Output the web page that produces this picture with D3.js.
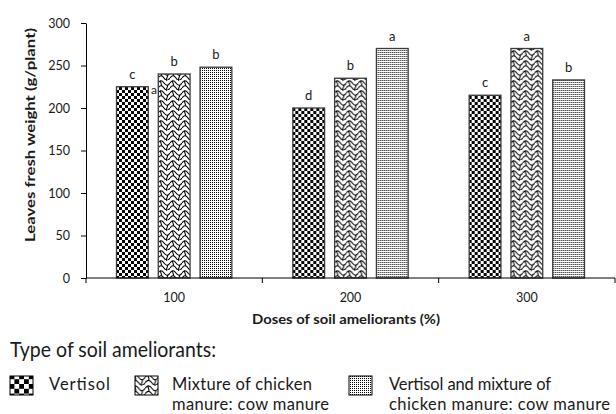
<!DOCTYPE html>
<html>
<head>
<meta charset="utf-8">
<script src="https://cdn.jsdelivr.net/npm/d3@7/dist/d3.min.js"></script>
<style>
  html, body { margin: 0; padding: 0; background: #fff; }
  svg { display: block; }
  text { font-family: Lato, "Open Sans", sans-serif; fill: #1a1a1a; }
</style>
</head>
<body>
<svg id="chart" width="616" height="414"></svg>
<script>
// Doses of soil ameliorants (%)
const doses = ["100", "200", "300"];
// Soil ameliorant types
const seriesNames = ["Vertisol", "Mixture", "VertisolMixture"];
// Leaves fresh weight (g/plant) per dose, one array per ameliorant type
const vertisol = [225, 200, 215];
const mixture = [240, 235, 270];
const vertisolMixture = [248, 270, 233];
// Significance letters per dose
const lettersVertisol = ["c", "d", "c"];
const lettersMixture = ["b", "b", "a"];
const lettersVertisolMixture = ["b", "a", "b"];
const yTicks = [0, 50, 100, 150, 200, 250, 300];

const svg = d3.select("#chart");
const defs = svg.append("defs");

// Fill patterns
function checker(id, s) {
  const p = defs.append("pattern").attr("id", id).attr("patternUnits", "userSpaceOnUse")
    .attr("width", 2 * s).attr("height", 2 * s);
  p.append("rect").attr("width", 2 * s).attr("height", 2 * s).attr("fill", "#fff");
  p.append("rect").attr("width", s).attr("height", s).attr("fill", "#000");
  p.append("rect").attr("x", s).attr("y", s).attr("width", s).attr("height", s).attr("fill", "#000");
}
function weave(id, k) {
  const w = 12 * k, h = 10 * k;
  const p = defs.append("pattern").attr("id", id).attr("patternUnits", "userSpaceOnUse")
    .attr("width", w).attr("height", h);
  p.append("rect").attr("width", w).attr("height", h).attr("fill", "#fff");
  const g = p.append("g").attr("transform", `scale(${k})`).attr("fill", "none")
    .attr("stroke", "#000").attr("stroke-width", 1 / k * 1.1);
  g.append("path").attr("d", "M0,3 C2,0 4,0 6,3 C8,6 10,6 12,3");
  g.append("path").attr("d", "M0,8 C2,5 4,5 6,8 C8,11 10,11 12,8");
  g.append("path").attr("d", "M3,0.8 C1,2 5,4 3,5.8");
  g.append("path").attr("d", "M9,5.2 C11,6.5 7,8.5 9,10.8");
  g.append("path").attr("d", "M9,-4.8 C11,-3.5 7,-1.5 9,0.8");
}
function dots(id) {
  const p = defs.append("pattern").attr("id", id).attr("patternUnits", "userSpaceOnUse")
    .attr("width", 2).attr("height", 2);
  p.append("rect").attr("width", 2).attr("height", 2).attr("fill", "#fff");
  p.append("rect").attr("width", 1).attr("height", 1).attr("fill", "#000");
}
checker("chk", 3); checker("chkL", 4.8);
weave("wv", 1); weave("wvL", 1.1);
dots("dt"); dots("dtL");

const fills = { Vertisol: "url(#chk)", Mixture: "url(#wv)", VertisolMixture: "url(#dt)" };
const legendFills = ["url(#chkL)", "url(#wvL)", "url(#dtL)"];

const rows = doses.map((d, i) => ({
  dose: d,
  values: [
    { key: "Vertisol", v: vertisol[i], letter: lettersVertisol[i] },
    { key: "Mixture", v: mixture[i], letter: lettersMixture[i] },
    { key: "VertisolMixture", v: vertisolMixture[i], letter: lettersVertisolMixture[i] }
  ]
}));

const x0 = d3.scaleBand().domain(doses).range([86, 615]).padding(0);
const x1 = d3.scaleBand().domain(seriesNames).range([0, x0.bandwidth()])
  .paddingInner(0.24).paddingOuter(0.73);
const y = d3.scaleLinear().domain([0, 300]).range([278, 23]);

// stray letter printed near the first bar
svg.append("text").attr("x", 151).attr("y", 94).attr("font-size", 12).text("a");

// Y axis
const yAxis = svg.append("g").attr("transform", "translate(86,0)")
  .call(d3.axisLeft(y).tickValues(yTicks).tickSize(5).tickSizeOuter(0).tickPadding(11));
yAxis.selectAll("text").attr("font-size", 12.5).attr("fill", "#1a1a1a");
yAxis.selectAll("line, path").attr("stroke", "#000");

// Bars
const groups = svg.append("g").selectAll("g").data(rows).join("g")
  .attr("transform", d => `translate(${x0(d.dose)},0)`);
groups.selectAll("rect").data(d => d.values).join("rect")
  .attr("x", d => x1(d.key))
  .attr("y", d => y(d.v))
  .attr("width", x1.bandwidth())
  .attr("height", d => y(0) - y(d.v))
  .attr("fill", d => fills[d.key])
  .attr("stroke", "#3a3a3a").attr("stroke-width", 1.3);
groups.selectAll("text").data(d => d.values).join("text")
  .attr("x", d => x1(d.key) + x1.bandwidth() / 2)
  .attr("y", d => y(d.v) - 8)
  .attr("text-anchor", "middle").attr("font-size", 13)
  .text(d => d.letter);

// X axis: ticks at category boundaries, labels centred below bars
const xAxisG = svg.append("g").attr("transform", `translate(0,${y(0)})`);
xAxisG.append("line").attr("x1", 86).attr("x2", 615).attr("stroke", "#000");
const bounds = doses.map(d => x0(d)).concat([x0(doses[doses.length - 1]) + x0.bandwidth()]);
xAxisG.selectAll("line.tk").data(bounds).join("line").attr("class", "tk")
  .attr("x1", d => d).attr("x2", d => d).attr("y1", 0).attr("y2", 5).attr("stroke", "#000");
xAxisG.selectAll("text").data(doses).join("text")
  .attr("x", d => x0(d) + x0.bandwidth() / 2).attr("y", 24)
  .attr("text-anchor", "middle").attr("font-size", 12.5).text(d => d);

// Axis titles
svg.append("text").attr("transform", "translate(35,135) rotate(-90)")
  .attr("text-anchor", "middle").attr("font-size", 12.5).attr("font-weight", 700)
  .attr("textLength", 214).attr("lengthAdjust", "spacingAndGlyphs")
  .text("Leaves fresh weight (g/plant)");
svg.append("text").attr("x", 346).attr("y", 324)
  .attr("text-anchor", "middle").attr("font-size", 12.5).attr("font-weight", 700)
  .attr("textLength", 188).attr("lengthAdjust", "spacingAndGlyphs")
  .text("Doses of soil ameliorants (%)");

// Legend
svg.append("text").attr("x", 10).attr("y", 357).attr("font-size", 22).attr("font-weight", 400)
  .attr("fill", "#2a2a2a").attr("textLength", 206).attr("lengthAdjust", "spacingAndGlyphs")
  .text("Type of soil ameliorants:");
const legendItems = [
  { sx: 10, tx: 49, lines: ["Vertisol"], lens: [61] },
  { sx: 135, tx: 172, lines: ["Mixture of chicken", "manure: cow manure"], lens: [140, 157] },
  { sx: 349, tx: 389, lines: ["Vertisol and mixture of", "chicken manure: cow manure"], lens: [162, 221] }
];
legendItems.forEach((it, i) => {
  svg.append("rect").attr("x", it.sx).attr("y", 376).attr("width", 23).attr("height", 19)
    .attr("fill", legendFills[i]).attr("stroke", "#000").attr("stroke-width", 1);
  it.lines.forEach((t, j) => {
    svg.append("text").attr("x", it.tx).attr("y", 390 + j * 20).attr("font-size", 16.5)
      .attr("fill", "#222").attr("textLength", it.lens[j]).attr("lengthAdjust", "spacing")
      .text(t);
  });
});
</script>
</body>
</html>
